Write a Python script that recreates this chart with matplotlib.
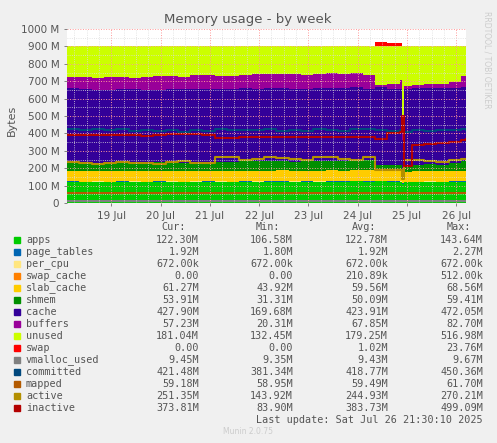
import matplotlib
matplotlib.use("Agg")
import matplotlib.pyplot as plt
import numpy as np

# time in days (day-of-July)
t = [18.10, 18.35, 18.60, 18.85, 19.10, 19.35, 19.60, 19.85, 20.10, 20.35,
     20.60, 20.85, 21.10, 21.35, 21.60, 21.85, 22.10, 22.35, 22.60, 22.85,
     23.10, 23.35, 23.60, 23.85, 24.10, 24.35, 24.60, 24.85, 24.90, 24.95,
     25.10, 25.35, 25.60, 25.85, 26.10, 26.20]

mem_total = 905
apps = [122, 120, 121, 119, 122, 121, 120, 122, 121, 120,
        121, 122, 121, 120, 122, 121, 122, 123, 121, 122,
        121, 123, 122, 124, 123, 125, 122, 121, 112, 118,
        120, 121, 120, 122, 123, 123]
page_tables = [1.9] * 36
per_cpu = [0.7] * 36
swap_cache = [0.0] * 36
slab_cache = [62, 62, 61, 62, 62, 61, 62, 62, 62, 61,
              62, 62, 62, 62, 61, 62, 62, 62, 62, 61,
              62, 62, 62, 62, 62, 60, 60, 58, 45, 55,
              60, 60, 60, 61, 61, 61]
shmem = [50, 47, 45, 50, 50, 46, 47, 50, 52, 48,
         48, 50, 52, 50, 53, 54, 55, 54, 52, 54,
         55, 53, 54, 56, 58, 32, 32, 35, 35, 38,
         38, 38, 37, 44, 54, 54]
cache = [425, 425, 420, 418, 420, 425, 420, 415, 418, 425,
         420, 420, 415, 420, 420, 418, 420, 418, 420, 415,
         420, 420, 418, 420, 410, 445, 440, 440, 170, 440,
         440, 438, 440, 430, 425, 425]
buffers = [65, 65, 70, 72, 70, 65, 72, 78, 75, 68,
           80, 78, 80, 78, 78, 82, 82, 80, 82, 82,
           82, 85, 82, 83, 82, 12, 30, 50, 60, 20,
           18, 22, 25, 35, 62, 60]
swap = [0, 0, 0, 0, 0, 0, 0, 0, 0, 0,
        0, 0, 0, 0, 0, 0, 0, 0, 0, 0,
        0, 0, 0, 0, 0, 20, 14, 12, 0, 0,
        0, 0, 0, 0, 0, 0]
vmalloc_used = [9.4] * 36
committed = [425, 418, 428, 420, 425, 412, 420, 415, 418, 410,
             420, 415, 425, 418, 420, 420, 425, 415, 420, 415,
             425, 418, 415, 425, 425, 420, 415, 418, 420, 410,
             420, 415, 420, 418, 425, 420]
mapped = [57, 57, 57, 57, 57, 57, 57, 57, 57, 57,
          57, 57, 57, 57, 57, 57, 57, 57, 57, 57,
          57, 57, 57, 57, 57, 58, 58, 60, 58, 57,
          57, 57, 57, 57, 58, 58]
active = [235, 228, 222, 232, 235, 232, 228, 225, 235, 240,
          232, 230, 262, 262, 250, 255, 262, 258, 255, 250,
          262, 265, 255, 250, 265, 192, 190, 188, 140, 245,
          245, 242, 238, 245, 252, 250]
inactive = [390, 390, 390, 390, 390, 390, 385, 390, 395, 395,
            395, 392, 372, 372, 378, 378, 378, 378, 380, 380,
            382, 382, 382, 382, 382, 370, 400, 410, 500, 215,
            335, 338, 345, 352, 362, 370]

labels = ["apps", "page_tables", "per_cpu", "swap_cache", "slab_cache", "shmem",
          "cache", "buffers", "unused", "swap", "vmalloc_used", "committed",
          "mapped", "active", "inactive"]
cur = ["122.30M", "1.92M", "672.00k", "0.00", "61.27M", "53.91M", "427.90M",
       "57.23M", "181.04M", "0.00", "9.45M", "421.48M", "59.18M", "251.35M", "373.81M"]
mins = ["106.58M", "1.80M", "672.00k", "0.00", "43.92M", "31.31M", "169.68M",
        "20.31M", "132.45M", "0.00", "9.35M", "381.34M", "58.95M", "143.92M", "83.90M"]
avgs = ["122.78M", "1.92M", "672.00k", "210.89k", "59.56M", "50.09M", "423.91M",
        "67.85M", "179.25M", "1.02M", "9.43M", "418.77M", "59.49M", "244.93M", "383.73M"]
maxs = ["143.64M", "2.27M", "672.00k", "512.00k", "68.56M", "59.41M", "472.05M",
        "82.70M", "516.98M", "23.76M", "9.67M", "450.36M", "61.70M", "270.21M", "499.09M"]
colors = ["#00CC00", "#0066B3", "#FFE680", "#FF8000", "#FFCC00", "#008F00",
          "#330099", "#990099", "#CCFF00", "#FF0000", "#808080", "#00487D",
          "#B35A00", "#B38F00", "#B30000"]

fig = plt.figure(figsize=(4.97, 4.43), dpi=100, facecolor="#F0F0F0")
ax = fig.add_axes([67 / 497, 1 - 203 / 443, 399 / 497, 174 / 443])
ax.set_facecolor("white")

used = [apps, page_tables, per_cpu, swap_cache, slab_cache, shmem, cache, buffers]
unused = [mem_total - sum(s[i] for s in used) for i in range(len(t))]
stack = used + [unused, swap]
base = np.zeros(len(t))
for series, c in zip(stack, colors[:10]):
    top = base + np.array(series, dtype=float)
    ax.fill_between(t, base, top, step="post", color=c, lw=0)
    base = top

for series, c in zip([vmalloc_used, committed, mapped, active, inactive], colors[10:]):
    ax.step(t, series, where="post", color=c, lw=1.5)

ax.set_xlim(18.1, 26.2)
ax.set_ylim(0, 1000)
day_ticks = [19, 20, 21, 22, 23, 24, 25, 26]
ax.set_xticks([d + 0.0 for d in day_ticks])
ax.set_xticklabels([f"{d} Jul" for d in day_ticks])
ax.set_xticks(np.arange(18.25, 26.2, 0.25), minor=True)
ax.set_yticks(range(0, 1001, 100))
ax.set_yticklabels(["0"] + [f"{v} M" for v in range(100, 1001, 100)])
ax.set_yticks(range(0, 1001, 50), minor=True)
ax.grid(True, which="minor", color="#dddddd", ls=":", lw=0.6)
ax.grid(True, which="major", color="#ff9999", ls=":", lw=0.7)
ax.set_axisbelow(False)
ax.tick_params(colors="#555555", labelsize=7.5, length=2, width=0.5)
ax.tick_params(which="minor", length=0)
for s in ax.spines.values():
    s.set_visible(False)
ax.axhline(0, color="#999999", lw=0.8)

fig.text(248 / 497, 1 - 19 / 443, "Memory usage - by week", ha="center", va="center",
         fontsize=9.5, color="#555555")
fig.text(12 / 497, 1 - 120 / 443, "Bytes", rotation=90, ha="center", va="center",
         fontsize=8, color="#555555")
fig.text(487 / 497, 1 - 60 / 443, "RRDTOOL / TOBI OETIKER", rotation=270, ha="center",
         va="center", fontsize=5.5, color="#cccccc")

mono = "DejaVu Sans Mono"
fs = 7.3
for x, h in [(174, "Cur:"), (268, "Min:"), (364, "Avg:"), (459, "Max:")]:
    fig.text(x / 497, 1 - 227 / 443, h, ha="center", va="center", family=mono,
             fontsize=fs, color="#555555")
for i, name in enumerate(labels):
    y = 1 - (240 + 12 * i) / 443
    fig.patches.append(plt.Rectangle((14 / 497, y - 3 / 443), 6 / 497, 6 / 443,
                                     transform=fig.transFigure, color=colors[i]))
    fig.text(26 / 497, y, name, ha="left", va="center", family=mono, fontsize=fs,
             color="#555555")
    for x, vals in [(199, cur), (293, mins), (388, avgs), (483, maxs)]:
        fig.text(x / 497, y, vals[i], ha="right", va="center", family=mono,
                 fontsize=fs, color="#555555")
fig.text(483 / 497, 1 - 420 / 443, "Last update: Sat Jul 26 21:30:10 2025", ha="right",
         va="center", family=mono, fontsize=fs, color="#555555")
fig.text(248 / 497, 1 - 432 / 443, "Munin 2.0.75", ha="center", va="center",
         fontsize=5.5, color="#cccccc")

fig.savefig("out.png", dpi=100, facecolor=fig.get_facecolor())
